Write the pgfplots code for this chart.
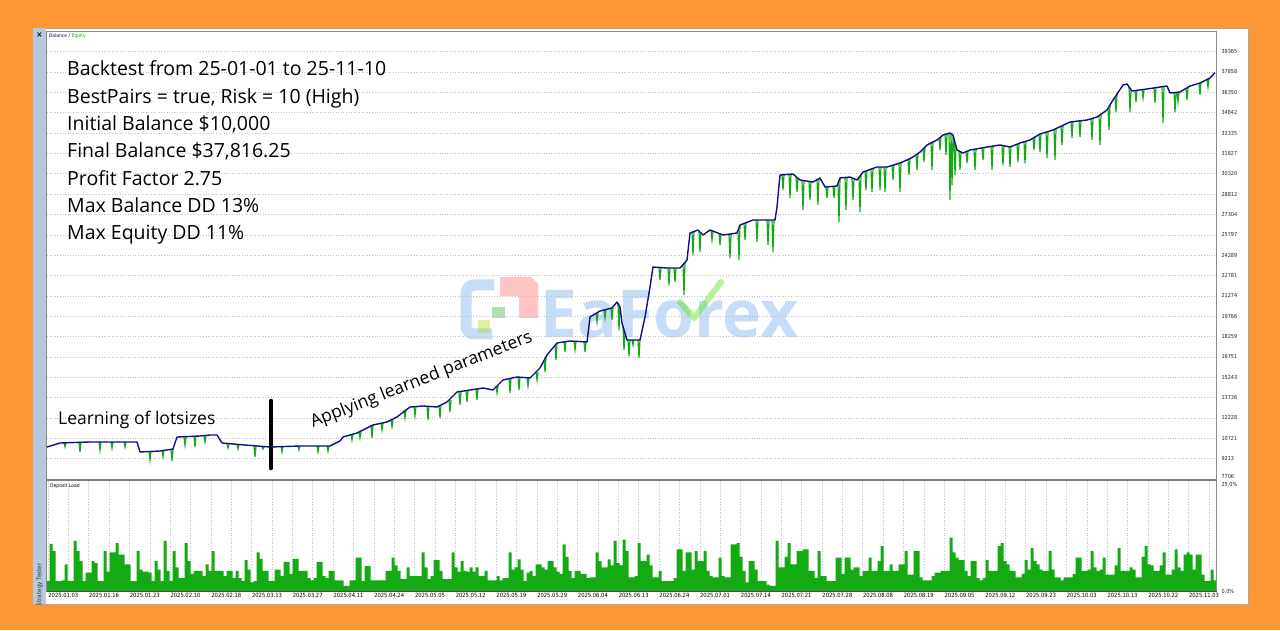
\documentclass[border=0pt]{standalone}
\usepackage{fontspec}
\setmainfont{Open Sans}
\newfontfamily\tickfont{DejaVu Sans Condensed}
\usepackage{pgfplots}
\pgfplotsset{compat=1.18}
\usepackage{pgfplotstable}
\definecolor{bgorange}{RGB}{253,152,52}
\definecolor{balblue}{RGB}{15,15,140}
\definecolor{eqgreen}{RGB}{20,170,20}
\definecolor{gridgray}{RGB}{195,195,195}
\definecolor{stripblue}{RGB}{184,200,222}
\definecolor{wmblue}{RGB}{120,175,240}

\pgfplotstableread[row sep=\\]{
x y\\
0 10076\\ 13 10373\\ 43 10447\\ 90 10447\\ 93 9706\\ 113 9780\\ 126 9928\\ 130 10817\\ 153 10891\\ 163 10965\\
170 10965\\ 175 10373\\ 198 10224\\ 223 10076\\ 253 10150\\ 283 10150\\ 293 10521\\ 296 10817\\ 310 11113\\ 316 11336\\
326 11706\\ 340 11928\\ 350 12299\\ 363 13039\\ 376 13114\\ 390 13039\\ 400 13410\\ 410 14151\\ 423 14299\\ 436 14447\\
446 14299\\ 456 15040\\ 470 15262\\ 483 15188\\ 493 15929\\ 500 16892\\ 510 17781\\ 523 17929\\ 540 17855\\ 543 19707\\
553 20151\\ 565 20373\\ 570 20818\\ 573 20447\\ 575 19262\\ 580 18003\\ 593 18003\\ 598 19707\\ 603 21929\\ 606 23411\\
620 23337\\ 633 23337\\ 640 23929\\ 643 25929\\ 651 26152\\ 656 25781\\ 663 26152\\ 676 25781\\ 690 25929\\ 693 26522\\
706 26892\\ 728 26892\\ 730 27855\\ 733 30226\\ 746 30300\\ 753 29856\\ 766 29707\\ 773 30004\\ 778 29337\\ 790 29411\\
793 30004\\ 803 30078\\ 810 29856\\ 816 30448\\ 830 30819\\ 840 30819\\ 853 31115\\ 860 31337\\ 866 31559\\ 873 31930\\
880 32448\\ 890 32819\\ 896 33189\\ 903 33337\\ 906 33189\\ 910 32078\\ 916 31856\\ 923 32078\\ 940 32300\\ 953 32448\\
963 32300\\ 973 32597\\ 983 32819\\ 993 33263\\ 1006 33560\\ 1023 34152\\ 1040 34300\\ 1050 34523\\ 1060 35041\\ 1066 35782\\
1076 36893\\ 1080 36967\\ 1085 36449\\ 1100 36597\\ 1113 36745\\ 1120 36819\\ 1123 36301\\ 1133 36375\\ 1143 36819\\ 1153 37041\\
1163 37412\\ 1168 37816\\
}\balance

\pgfplotstableread[row sep=\\]{
x y\\
17 10373\\18 10076\\19 10373\\19 nan\\
32 10447\\33 9706\\34 10447\\34 nan\\
52 10447\\53 9854\\54 10447\\54 nan\\
64 10447\\65 10002\\66 10447\\66 nan\\
77 10447\\78 10076\\79 10447\\79 nan\\
102 9780\\103 9113\\104 9780\\104 nan\\
115 9854\\116 9335\\117 9854\\117 nan\\
124 9928\\125 9039\\126 9928\\126 nan\\
137 10817\\138 10224\\139 10817\\139 nan\\
147 10891\\148 10076\\149 10891\\149 nan\\
157 10891\\158 10447\\159 10891\\159 nan\\
180 10299\\181 10002\\182 10299\\182 nan\\
190 10224\\191 9928\\192 10224\\192 nan\\
207 10150\\208 9335\\209 10150\\209 nan\\
215 10076\\216 9928\\217 10076\\217 nan\\
234 10150\\235 9706\\236 10150\\236 nan\\
251 10150\\252 9854\\253 10150\\253 nan\\
270 10150\\271 9706\\272 10150\\272 nan\\
280 10150\\281 9780\\282 10150\\282 nan\\
304 11039\\305 10595\\306 11039\\306 nan\\
312 11188\\313 10743\\314 11188\\314 nan\\
324 11706\\325 10743\\326 11706\\326 nan\\
334 11855\\335 11336\\336 11855\\336 nan\\
344 12077\\345 11558\\346 12077\\346 nan\\
357 12818\\358 12225\\359 12818\\359 nan\\
367 13039\\368 12373\\369 13039\\369 nan\\
380 13114\\381 12077\\382 13114\\382 nan\\
392 13114\\393 12225\\394 13114\\394 nan\\
402 13558\\403 12670\\404 13558\\404 nan\\
412 14151\\413 13188\\414 14151\\414 nan\\
419 14225\\420 13410\\421 14225\\421 nan\\
429 14373\\430 13558\\431 14373\\431 nan\\
449 14595\\450 14077\\451 14595\\451 nan\\
462 15188\\463 14077\\464 15188\\464 nan\\
471 15262\\472 14299\\473 15262\\473 nan\\
480 15188\\481 14595\\482 15188\\482 nan\\
489 15632\\490 15040\\491 15632\\491 nan\\
497 16500\\498 15632\\499 16700\\499 nan\\
508 17600\\509 16521\\510 17781\\510 nan\\
517 17900\\518 17114\\519 17900\\519 nan\\
527 17900\\528 17262\\529 17900\\529 nan\\
537 17855\\538 17114\\539 17855\\539 nan\\
549 20003\\550 19336\\551 20003\\551 nan\\
557 20200\\558 19633\\559 20250\\559 nan\\
564 20373\\565 19484\\566 20373\\566 nan\\
571 20700\\572 18744\\573 20447\\573 nan\\
576 19010\\577 17262\\578 18500\\578 nan\\
581 18003\\582 16818\\583 18003\\583 nan\\
585 18003\\586 17632\\587 18003\\587 nan\\
591 18003\\592 16669\\593 18003\\593 nan\\
612 23337\\613 22448\\614 23337\\614 nan\\
621 23337\\622 22077\\623 23337\\623 nan\\
627 23337\\628 22299\\629 23337\\629 nan\\
636 23590\\637 21336\\638 23760\\638 nan\\
645 26000\\646 24300\\647 26050\\647 nan\\
652 26078\\653 24522\\654 26000\\654 nan\\
664 26100\\665 25411\\666 26050\\666 nan\\
672 25900\\673 25040\\674 25850\\674 nan\\
682 25855\\683 24077\\684 25870\\684 nan\\
691 26130\\692 23929\\693 26522\\693 nan\\
697 26670\\698 25411\\699 26700\\699 nan\\
709 26892\\710 25263\\711 26892\\711 nan\\
720 26892\\721 25040\\722 26892\\722 nan\\
725 26892\\726 24522\\727 26892\\727 nan\\
735 30240\\736 29115\\737 30240\\737 nan\\
742 30280\\743 28522\\744 30290\\744 nan\\
749 30050\\750 28967\\751 30000\\751 nan\\
755 29830\\756 27633\\757 29810\\757 nan\\
762 29750\\763 28374\\764 29730\\764 nan\\
770 29880\\771 28004\\772 29940\\772 nan\\
779 29340\\780 28522\\781 29350\\781 nan\\
786 29390\\787 28522\\788 29400\\788 nan\\
791 29610\\792 26744\\793 30004\\793 nan\\
798 30040\\799 27633\\800 30060\\800 nan\\
805 30010\\806 28374\\807 29960\\807 nan\\
812 30050\\813 27485\\814 30250\\814 nan\\
818 30500\\819 29115\\820 30550\\820 nan\\
824 30660\\825 28967\\826 30710\\826 nan\\
832 30819\\833 29115\\834 30819\\834 nan\\
837 30819\\838 28967\\839 30819\\839 nan\\
845 30930\\846 29856\\847 30970\\847 nan\\
852 31090\\853 28967\\854 31150\\854 nan\\
861 31370\\862 30226\\863 31450\\863 nan\\
869 31720\\870 30596\\871 31820\\871 nan\\
876 32150\\877 31189\\878 32300\\878 nan\\
884 32600\\885 30596\\886 32670\\886 nan\\
892 32940\\893 32078\\894 33060\\894 nan\\
898 33230\\899 31708\\900 33270\\900 nan\\
902 33310\\903 28374\\904 33290\\905 29485\\906 33189\\906 nan\\
907 32900\\908 30226\\909 32350\\909 nan\\
912 32000\\913 30596\\914 31930\\914 nan\\
919 31950\\920 31115\\921 32000\\921 nan\\
927 32130\\928 30596\\929 32140\\929 nan\\
935 32230\\936 31337\\937 32250\\937 nan\\
944 32340\\945 30596\\946 32360\\946 nan\\
955 32420\\956 30967\\957 32400\\957 nan\\
962 32315\\963 30819\\964 32330\\964 nan\\
970 32500\\971 31189\\972 32560\\972 nan\\
977 32700\\978 31115\\979 32730\\979 nan\\
986 32950\\987 32078\\988 33040\\988 nan\\
992 33220\\993 31930\\994 33290\\994 nan\\
999 33420\\1000 31485\\1001 33450\\1001 nan\\
1007 33590\\1008 31337\\1009 33630\\1009 nan\\
1014 33810\\1015 32448\\1016 33850\\1016 nan\\
1024 34160\\1025 32967\\1026 34170\\1026 nan\\
1032 34230\\1033 33041\\1034 34240\\1034 nan\\
1044 34390\\1045 32819\\1046 34430\\1046 nan\\
1052 34630\\1053 32448\\1054 34730\\1054 nan\\
1061 35160\\1062 33560\\1063 35400\\1063 nan\\
1068 36000\\1069 34893\\1070 36230\\1070 nan\\
1082 36760\\1083 34893\\1084 36550\\1084 nan\\
1088 36480\\1089 35634\\1090 36500\\1090 nan\\
1095 36550\\1096 35930\\1097 36560\\1097 nan\\
1107 36670\\1108 35560\\1109 36690\\1109 nan\\
1115 36760\\1116 34078\\1117 36780\\1117 nan\\
1127 36330\\1128 34893\\1129 36345\\1129 nan\\
1130 36350\\1131 35634\\1132 36370\\1132 nan\\
1139 36640\\1140 35782\\1141 36700\\1141 nan\\
1152 37020\\1153 36152\\1154 37080\\1154 nan\\
1160 37300\\1161 36745\\1162 37370\\1162 nan\\
}\equitydips

\pgfplotstableread[row sep=\\]{
y\\
2.3\\ 11\\ 9.3\\ 2.3\\ 2.3\\ 2.5\\ 6.2\\ 2.3\\ 2.3\\ 11.7\\
9.3\\ 7\\ 2.3\\ 4.3\\ 4.3\\ 7\\ 6.5\\ 2.3\\ 2.3\\ 9.3\\
4.5\\ 9\\ 9\\ 11.2\\ 8.5\\ 8.5\\ 6.2\\ 6.2\\ 2.3\\ 2.3\\
9.3\\ 5\\ 4.5\\ 4.5\\ 4.3\\ 2.3\\ 7\\ 5\\ 2.3\\ 11.7\\
4.7\\ 2.3\\ 9.3\\ 5.5\\ 3\\ 3\\ 11.2\\ 7\\ 4\\ 4.7\\
4.7\\ 4.7\\ 3.5\\ 6.2\\ 4.7\\ 9.3\\ 4.7\\ 4.7\\ 4.7\\ 3.5\\
4.7\\ 4.7\\ 3\\ 4.7\\ 3\\ 2.3\\ 7.2\\ 5\\ 2\\ 2.3\\
9\\ 7.5\\ 4.7\\ 4.7\\ 2.3\\ 2.3\\ 5\\ 5\\ 3.5\\ 6.8\\
6.8\\ 4\\ 7.5\\ 7.5\\ 4.7\\ 4.7\\ 4.7\\ 3\\ 2.5\\ 3\\
6.8\\ 6.8\\ 3.5\\ 3\\ 4.7\\ 4.7\\ 2.5\\ 2.5\\ 2.5\\ 1.2\\
1.2\\ 2.5\\ 2.5\\ 7.8\\ 7.8\\ 2.3\\ 5.8\\ 5.8\\ 2.5\\ 2.5\\
2.5\\ 2.5\\ 2.5\\ 4.7\\ 4.7\\ 7.8\\ 6\\ 4.7\\ 2.8\\ 2.8\\
5.5\\ 3.5\\ 3.5\\ 3.5\\ 3.5\\ 9\\ 5.5\\ 2.8\\ 3.5\\ 7.2\\
7.2\\ 4.7\\ 2.8\\ 2.8\\ 2.8\\
9\\ 5.5\\ 4.5\\ 7\\ 4.7\\ 4.5\\ 5.5\\ 4.5\\ 5.5\\ 3.5\\
3.5\\ 4.7\\ 2.5\\ 2.5\\ 2.5\\ 3.5\\ 2.5\\ 3\\ 3\\ 9\\
5\\ 5.5\\ 7.4\\ 5\\ 2.3\\ 4.3\\ 4.7\\ 3.5\\ 6.2\\ 6.2\\
5.5\\ 5\\ 7\\ 7\\ 5.5\\ 4.5\\ 4\\ 10.9\\ 8\\ 4.7\\
3\\ 4.7\\ 4.7\\ 4\\ 4\\ 3\\ 3.2\\ 3.2\\ 9\\ 7\\
5.5\\ 5.5\\ 7.4\\ 6\\ 11.7\\ 6.5\\ 6\\ 12\\ 9.3\\ 3.2\\
3.2\\ 3.5\\ 11.2\\ 7\\ 7\\ 8.5\\ 6\\ 3.2\\ 3.2\\ 4.7\\
2.3\\ 2.3\\ 2.3\\ 2.3\\ 3\\ 9.7\\ 9.7\\ 4.7\\ 9\\ 9\\
5\\ 9.3\\ 7\\ 7\\ 9.3\\ 4.7\\ 3.5\\ 3.2\\ 3.2\\ 7.8\\
3.5\\ 3.2\\ 3.2\\ 10.9\\ 10.9\\ 11.2\\ 8\\ 4.7\\ 2\\ 7\\
7\\ 5\\ 2.3\\ 2.3\\ 2.3\\ 1.5\\ 1.2\\ 1.2\\ 11.7\\ 5.5\\
5.5\\ 8\\ 11.2\\ 6.2\\ 6.2\\ 9.3\\ 9.3\\ 9.7\\ 9.7\\ 4.7\\
4.7\\ 3\\ 9.3\\ 3.5\\ 3.5\\ 2.3\\ 2.3\\ 2.3\\ 7.8\\ 7.8\\
4\\ 7.8\\ 7.8\\ 5\\ 5.5\\ 5.5\\
3.5\\ 4.7\\ 4.7\\ 7.8\\ 4.7\\ 4.7\\ 7\\ 10.5\\ 4.7\\ 4.7\\
6.2\\ 4.7\\ 4.7\\ 6.2\\ 6.2\\ 9.3\\ 3.8\\ 3.8\\ 9.3\\ 9.3\\
3.2\\ 2.5\\ 2.5\\ 2.5\\ 3.5\\ 4.3\\ 4.3\\ 4.7\\ 4.7\\ 4.7\\
12.5\\ 9\\ 7.8\\ 7.2\\ 7.2\\ 4.7\\ 3.5\\ 7\\ 7\\ 3\\
2.5\\ 3\\ 7.2\\ 4.7\\ 4.7\\ 4.7\\ 10.5\\ 11.2\\ 7\\ 6.2\\
4.7\\ 4.7\\ 3.2\\ 3.2\\ 4\\ 7.2\\ 5\\ 10\\ 7\\ 6.2\\
5\\ 4.7\\ 4.7\\ 9.3\\ 5\\ 3.2\\ 3.2\\ 2.5\\ 3.2\\ 3.2\\
3.2\\ 4\\ 7.8\\ 7.8\\ 4.7\\ 4.7\\ 5\\ 9.3\\ 5.5\\ 4.7\\
5\\ 7.8\\ 3.8\\ 3.8\\ 3.8\\ 6\\ 10\\ 4.7\\ 4.7\\ 4.7\\
5.5\\ 5\\ 3.2\\ 3.2\\ 8\\ 10.5\\ 6.2\\ 6\\ 4.7\\ 4.7\\
6\\ 9\\ 3.8\\ 3.8\\ 5\\ 9.7\\ 5.5\\ 4.7\\ 8.5\\ 9\\
8.5\\ 5\\ 8.5\\ 8.5\\ 3.8\\ 2.3\\ 2.3\\ 5\\ 2.5\\
}\deposit

\begin{document}
\begin{tikzpicture}[x=1pt,y=1pt]
\useasboundingbox (0,0) rectangle (1280,630);
% frame of the screenshot
\fill[bgorange] (0,0) rectangle (1280,630);
\fill[white] (33,26) rectangle (1248,602);
\draw[black!35, line width=0.6pt] (33,26) rectangle (1248,602);
\fill[stripblue] (33,26) rectangle (46,602);
\node[font=\tickfont\bfseries\fontsize{8}{8}\selectfont] at (39.5,595) {\texttimes};
\begin{scope}
\clip (33,26) rectangle (46,602);
\node[rotate=90, anchor=east, inner sep=0pt, font=\tickfont\fontsize{6.3}{7}\selectfont, text=black!80] at (39.8,67) {Strategy Tester};
\end{scope}

% watermark
\begin{scope}[opacity=0.42]
\draw[wmblue, line width=11pt, rounded corners=8pt] (494,345) -- (466,345) -- (466,296) -- (492,296);
\fill[red!55] (500,353) -- (531,353) -- (538,346) -- (538,312) -- (519,312) -- (519,334) -- (500,334) -- cycle;
\fill[green!55!black!70] (492,312) rectangle (505,323);
\fill[yellow!70!green] (478,297) rectangle (490,310);
\node[anchor=base west, inner sep=0pt, text=wmblue, font=\bfseries\fontsize{66}{66}\selectfont] at (540,292) {EaForex};
\draw[green!65!yellow!90!black, line width=6pt, line cap=round, line join=round] (680,328) -- (694,312) -- (721,348);
\end{scope}

% ---------------- upper axis: balance / equity
\begin{axis}[
  at={(47pt,151pt)}, anchor=south west, scale only axis,
  width=1169pt, height=448pt,
  xmin=0, xmax=1169, ymin=7706, ymax=40894,
  axis line style={draw=none},
  xtick=\empty,
  minor xtick={0.93,21.3,...,1169},
  xminorgrids=true,
  ytick={9213,10721,12228,13736,15243,16751,18259,19766,21274,22781,24289,25797,27304,28812,30320,31827,33335,34842,36350,37858,39365},
  yticklabels={9213,10721,12228,13736,15243,16751,18259,19766,21274,22781,24289,25797,27304,28812,30320,31827,33335,34842,36350,37858,39365},
  extra y ticks={7706}, extra y tick labels={7706},
  extra y tick style={yticklabel style={yshift=2.5pt}, grid=none},
  scaled y ticks=false,
  ymajorgrids=true,
  yticklabel pos=right,
  major tick length=0pt, minor tick length=0pt,
  grid style={gridgray, line width=0.5pt, dash pattern=on 1pt off 1.6pt},
  minor grid style={gridgray, line width=0.5pt, dash pattern=on 1pt off 1.6pt},
  yticklabel style={font=\tickfont\fontsize{5.5}{6}\selectfont, text=black!85, xshift=2pt},
  unbounded coords=jump,
]
\addplot[eqgreen, line width=1.2pt] table[x=x, y=y] {\equitydips};
\addplot[balblue, line width=1.4pt, line join=round] table[x=x, y=y] {\balance};
\end{axis}

% ---------------- lower axis: deposit load
\begin{axis}[
  at={(47pt,39pt)}, anchor=south west, scale only axis,
  width=1169pt, height=110pt,
  xmin=0, xmax=1169, ymin=0, ymax=25.7,
  axis line style={draw=none},
  xtick={16.3,57.0,97.8,138.5,179.3,220.0,260.7,301.5,342.2,383.0,423.7,464.4,505.2,545.9,586.7,627.4,668.1,708.9,749.6,790.4,831.1,871.8,912.6,953.3,994.1,1034.8,1075.5,1116.3,1157.0},
  xticklabels={2025.01.03,2025.01.16,2025.01.23,2025.02.10,2025.02.18,2025.03.13,2025.03.27,2025.04.11,2025.04.24,2025.05.05,2025.05.12,2025.05.19,2025.05.29,2025.06.04,2025.06.13,2025.06.24,2025.07.01,2025.07.14,2025.07.21,2025.07.28,2025.08.08,2025.08.19,2025.09.05,2025.09.12,2025.09.23,2025.10.03,2025.10.13,2025.10.22,2025.11.03},
  minor xtick={0.93,21.3,...,1169},
  xminorgrids=true,
  ytick={0,25}, yticklabels={0.0\%,25.0\%},
  yticklabel pos=right,
  major tick length=0pt, minor tick length=0pt,
  minor grid style={gridgray, line width=0.5pt, dash pattern=on 1pt off 1.6pt},
  yticklabel style={font=\tickfont\fontsize{5.5}{6}\selectfont, text=black!85, xshift=2pt},
  xticklabel style={font=\tickfont\fontsize{5.8}{6}\selectfont, text=black, yshift=1pt},
]
\addplot[ybar, bar width=3, fill=eqgreen, draw=none] table[x expr=\coordindex*3+1, y=y] {\deposit};
\end{axis}

% plot frames and separator
\draw[black!45, line width=0.7pt] (46.5,39) rectangle (1216.5,599);
\draw[black!50, line width=2.4pt] (46.5,150) -- (1216.5,150);
\draw[black!70, line width=0.6pt] (46.5,39) -- (1216.5,39);

% small panel captions
\node[anchor=west, inner sep=0pt, font=\tickfont\fontsize{5}{5}\selectfont] at (49,593.5) {\textcolor{balblue}{Balance} / \textcolor{eqgreen}{Equity}};
\node[anchor=west, inner sep=0pt, font=\tickfont\fontsize{5}{5}\selectfont] at (50,144) {Deposit Load};

% annotations
\begin{scope}[every node/.style={anchor=base west, inner sep=0pt, font=\fontsize{19.5}{20}\selectfont}]
\node at (67,554) {Backtest from 25-01-01 to 25-11-10};
\node at (67,526.7) {BestPairs = true, Risk = 10 (High)};
\node at (67,499.4) {Initial Balance \$10,000};
\node at (67,472) {Final Balance \$37,816.25};
\node at (67,444.7) {Profit Factor 2.75};
\node at (67,417.4) {Max Balance DD 13\%};
\node at (67,390) {Max Equity DD 11\%};
\end{scope}
\node[anchor=base west, inner sep=0pt, font=\fontsize{17.5}{18}\selectfont] at (58,205.7) {Learning of lotsizes};
\node[anchor=base west, inner sep=0pt, rotate=21.5, font=\fontsize{17.5}{18}\selectfont] at (313,202) {Applying learned parameters};
\draw[black, line width=4.6pt, line cap=round] (271,229) -- (271,162);
\end{tikzpicture}
\end{document}
